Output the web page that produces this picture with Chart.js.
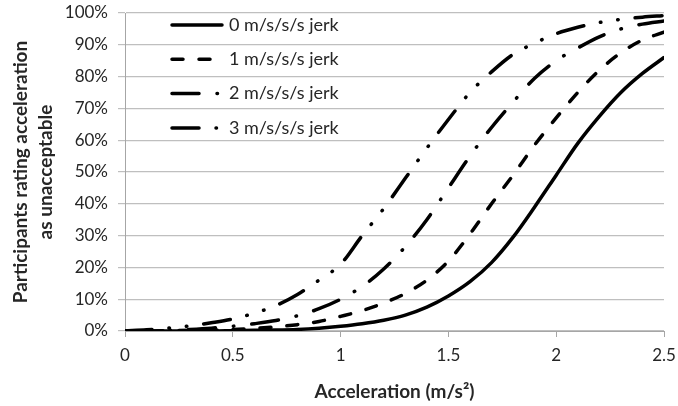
<!DOCTYPE html>
<html>
<head>
<meta charset="utf-8">
<script src="https://cdn.jsdelivr.net/npm/chart.js@4.4.1/dist/chart.umd.min.js"></script>
<style>
  html, body { margin: 0; padding: 0; background: #fff; }
  #wrap { width: 678px; height: 406px; }
</style>
</head>
<body>
<div id="wrap"><canvas id="myChart" width="678" height="406"></canvas></div>
<script>
// acceleration (m/s^2) sample points
const accel = [0, 0.1, 0.2, 0.3, 0.4, 0.5, 0.6, 0.7, 0.8, 0.9, 1.0, 1.1, 1.2, 1.3, 1.4, 1.5, 1.6, 1.7, 1.8, 1.9, 2.0, 2.1, 2.2, 2.3, 2.4, 2.5]

// % of participants rating acceleration as unacceptable
const jerk0 = [0, 0, 0, 0, 0, 0.1, 0.2, 0.3, 0.5, 0.9, 1.5, 2.3, 3.4, 5, 7.5, 11, 15.5, 21.5, 29.5, 39, 49, 59, 67.5, 75, 81, 86]
const jerk1 = [0, 0, 0.1, 0.2, 0.3, 0.5, 0.8, 1.3, 2, 3, 4.6, 6.4, 8.8, 11.8, 16, 22, 30.5, 40, 49, 58.5, 67, 75, 82, 87.5, 91.5, 94]
const jerk2 = [0, 0.1, 0.2, 0.5, 0.9, 1.5, 2.3, 3.3, 4.8, 7, 10, 14, 19.5, 26.5, 35, 45, 55, 64, 72, 79.5, 85, 89, 92.5, 95, 96.5, 97.5]
const jerk3 = [0.1, 0.4, 0.9, 1.6, 2.6, 3.8, 5.6, 8, 11.5, 16, 21, 30, 38.5, 48, 57.5, 66.5, 75, 81.5, 87, 90.5, 93.5, 95.5, 97, 98, 98.7, 99.2]

const seriesNames = ['0 m/s/s/s jerk', '1 m/s/s/s jerk', '2 m/s/s/s jerk', '3 m/s/s/s jerk']
const xTickLabels = ['0', '0.5', '1', '1.5', '2', '2.5']
const yTickLabels = ['0%', '10%', '20%', '30%', '40%', '50%', '60%', '70%', '80%', '90%', '100%']

const FONT = 'Lato, "Open Sans", sans-serif'
const dashes = [[], [11, 16], [27, 18, 0.5, 18], [27, 17, 0.5, 17, 0.5, 17]]

const toPoints = (vals) => vals.map((v, i) => ({ x: accel[i], y: v }))

const legendInside = {
    id: 'legendInside',
    afterDraw(chart) {
        const ctx = chart.ctx
        const a = chart.chartArea
        ctx.save()
        chart.data.datasets.forEach((ds, i) => {
            const y = a.top + 12 + i * 34.3
            const x0 = a.left + 47
            ctx.beginPath()
            ctx.setLineDash(ds.borderDash)
            ctx.lineCap = 'round'
            ctx.lineWidth = ds.borderWidth
            ctx.strokeStyle = ds.borderColor
            ctx.moveTo(x0, y)
            ctx.lineTo(x0 + 50, y)
            ctx.stroke()
            ctx.setLineDash([])
            ctx.fillStyle = '#262626'
            ctx.font = '18px ' + FONT
            ctx.textBaseline = 'middle'
            ctx.fillText(ds.label, x0 + 57, y)
        })
        ctx.restore()
    }
}

var ctx = document.getElementById('myChart')
var myChart = new Chart(ctx, {
    type: 'line',
    data: {
        datasets: [jerk0, jerk1, jerk2, jerk3].map((vals, i) => ({
            label: seriesNames[i],
            data: toPoints(vals),
            borderColor: '#000',
            borderWidth: 3.5,
            borderDash: dashes[i],
            borderCapStyle: 'round',
            pointRadius: 0,
            fill: false,
            cubicInterpolationMode: 'monotone'
        }))
    },
    options: {
        responsive: false,
        animation: false,
        layout: { padding: { left: 0, right: 14, top: 13, bottom: 0 } },
        plugins: { legend: { display: false }, tooltip: { enabled: false } },
        scales: {
            x: {
                type: 'linear',
                min: 0,
                max: 2.5,
                afterFit: (s) => { s.height = 75; s.paddingLeft = 0; s.paddingRight = 0 },
                ticks: {
                    stepSize: 0.5,
                    color: '#262626',
                    font: { family: FONT, size: 17 },
                    padding: 8,
                    callback: (v) => xTickLabels[Math.round(v / 0.5)]
                },
                grid: { drawOnChartArea: false, drawTicks: true, tickLength: 6, color: '#a6a6a6' },
                border: { color: '#a6a6a6', width: 1 },
                title: {
                    display: true,
                    text: 'Acceleration (m/s²)',
                    color: '#262626',
                    font: { family: FONT, size: 19, weight: 'bold' },
                    padding: { top: 4, bottom: 3 }
                }
            },
            y: {
                min: 0,
                max: 100,
                afterFit: (s) => { s.width = 125; s.paddingTop = 0; s.paddingBottom = 0 },
                ticks: {
                    stepSize: 10,
                    color: '#262626',
                    font: { family: FONT, size: 17 },
                    padding: 10,
                    callback: (v) => yTickLabels[Math.round(v / 10)]
                },
                grid: { color: '#bfbfbf', lineWidth: 1.2, tickLength: 7 },
                border: { color: '#a6a6a6', width: 1 },
                title: {
                    display: true,
                    text: ['Participants rating acceleration', 'as unacceptable'],
                    color: '#262626',
                    font: { family: FONT, size: 19, weight: 'bold', lineHeight: 1.3 },
                    padding: { top: 9, bottom: 0 }
                }
            }
        }
    },
    plugins: [legendInside]
})
</script>
</body>
</html>
